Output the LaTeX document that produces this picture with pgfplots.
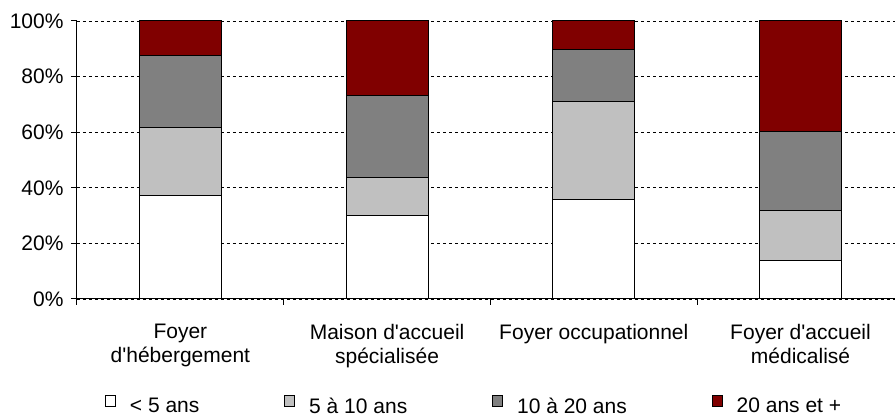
\documentclass[border=0pt]{standalone}
\usepackage{pgfplots}
\pgfplotsset{compat=1.18}
\usepackage{fontspec}
\setmainfont{Liberation Sans}
\definecolor{lgray}{HTML}{C0C0C0}
\definecolor{mgray}{HTML}{808080}
\definecolor{dred}{HTML}{800000}
\begin{document}
\begin{tikzpicture}
\useasboundingbox (-77pt,-118pt) rectangle (818pt,299pt);
\begin{axis}[
  at={(0pt,0pt)}, anchor=south west,
  scale only axis, width=818pt, height=278pt,
  ybar stacked, bar width=82pt,
  xmin=-0.5, xmax=3.457, ymin=0, ymax=100,
  axis x line*=bottom, axis y line*=left,
  axis line style={line width=1pt,-},
  xtick={0,1,2,3},
  xticklabels={Foyer\\d\textquotesingle hébergement, Maison d\textquotesingle accueil\\spécialisée, Foyer occupationnel, Foyer d\textquotesingle accueil\\médicalisé},
  xticklabel style={align=center, anchor=north, yshift=-16pt, font=\fontsize{21}{24}\selectfont},
  major x tick style={draw=none},
  minor xtick={-0.5,0.5,1.5,2.5},
  minor tick length=6pt,
  minor x tick style={line width=1pt,black},
  ytick={0,20,40,60,80,100},
  yticklabel={\pgfmathprintnumber{\tick}\%},
  yticklabel style={font=\fontsize{21}{24}\selectfont, xshift=-4pt},
  major tick length=6pt,
  tick align=outside,
  y tick style={line width=1pt,black},
  ymajorgrids,
  major grid style={dashed, black, line width=0.6pt},
  /pgf/number format/assume math mode=true,
  every tick label/.append style={text=black},
  legend columns=4,
  legend style={draw=none, fill=none, at={(rel axis cs:0.0342,-0.384)}, anchor=west, inner sep=0pt,
    font=\fontsize{21}{24}\selectfont,
    /tikz/every odd column/.append style={column sep=12pt},
    /tikz/every even column/.append style={column sep=83pt}},
  legend image code/.code={\draw[#1,draw=black,line width=0.8pt] (0pt,0pt) rectangle (10pt,11pt);},
  every axis plot/.append style={draw=black, line width=1pt},
]
\addplot[fill=white] coordinates {(0,37.2) (1,30.1) (2,35.9) (3,13.7)};
\addplot[fill=lgray] coordinates {(0,24.6) (1,13.7) (2,35.2) (3,18.0)};
\addplot[fill=mgray] coordinates {(0,25.7) (1,29.3) (2,18.5) (3,28.5)};
\addplot[fill=dred] coordinates {(0,12.5) (1,26.9) (2,10.4) (3,39.8)};
\legend{< 5 ans, 5 à 10 ans, 10 à 20 ans, 20 ans et +}
\end{axis}
\end{tikzpicture}
\end{document}
